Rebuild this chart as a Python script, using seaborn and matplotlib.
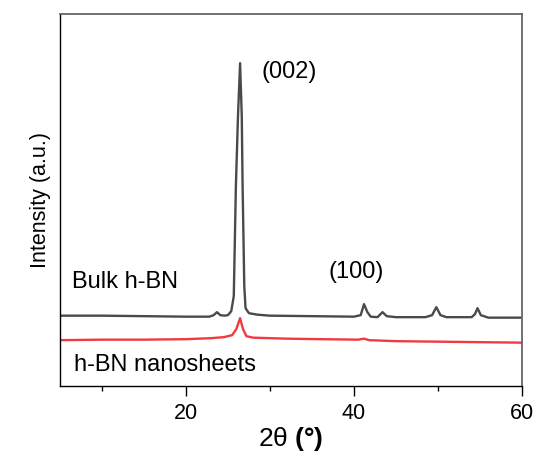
import matplotlib
matplotlib.use("Agg")
import matplotlib.pyplot as plt
import seaborn as sns
import pandas as pd
from matplotlib.ticker import MultipleLocator

# Bulk h-BN XRD pattern (2theta, intensity a.u.)
bulk_2theta = [5, 10, 15, 20, 22.8, 23.3, 23.7, 24.1, 24.6, 25.0, 25.4, 25.7, 25.95,
               26.2, 26.45, 26.65, 26.75, 26.95, 27.1, 27.5, 28.5, 30, 35, 40, 40.8,
               41.2, 41.6, 42.0, 42.8, 43.4, 43.9, 45, 48.5, 49.3, 49.8, 50.3, 51,
               54.0, 54.4, 54.7, 55.1, 56, 60]
bulk_int = [70.5, 70.5, 70, 69.5, 69.5, 71, 74, 71, 70.5, 71, 75, 90, 200,
            270, 323, 270, 200, 100, 78, 73, 71.5, 70.5, 70, 69.5, 71,
            82, 74, 69.5, 69, 74, 70, 69, 69, 71, 79, 71, 69,
            69, 72, 78, 71, 68.5, 68.5]

# h-BN nanosheets XRD pattern
nano_2theta = [5, 10, 15, 20, 23, 24.5, 25.5, 26.0, 26.45, 26.8, 27.2, 28, 32,
               36, 40.5, 41.2, 41.8, 45, 50, 55, 60]
nano_int = [46, 46.5, 46.5, 47, 48, 49, 51, 57, 68, 57, 50, 48.5, 47.5,
            47, 46.5, 47.5, 46, 45, 44.5, 44, 43.5]

labels = ["Bulk h-BN", "h-BN nanosheets"]
peak_labels = ["(002)", "(100)"]
x_ticks = [20, 40, 60]

sns.set_style("ticks")
plt.rcParams['font.family'] = ['Liberation Sans', 'DejaVu Sans']
plt.rcParams['text.color'] = 'black'
plt.rcParams['axes.labelcolor'] = 'black'
plt.rcParams['xtick.color'] = 'black'
plt.rcParams['mathtext.fontset'] = 'custom'
plt.rcParams['mathtext.rm'] = 'Liberation Sans'
plt.rcParams['mathtext.bf'] = 'Liberation Sans:bold'

df_bulk = pd.DataFrame({"x": bulk_2theta, "y": bulk_int})
df_nano = pd.DataFrame({"x": nano_2theta, "y": nano_int})

fig = plt.figure(figsize=(5.39, 4.57), dpi=100)
ax = fig.add_axes([0.111, 0.155, 0.8575, 0.814])

sns.lineplot(data=df_bulk, x="x", y="y", ax=ax, color="#4a4a4a", lw=1.7,
             estimator=None, sort=False)
sns.lineplot(data=df_nano, x="x", y="y", ax=ax, color="#ef3b3f", lw=1.7,
             estimator=None, sort=False)

ax.set_xlim(5, 60)
ax.set_ylim(0, 372)
ax.set_xticks(x_ticks)
ax.xaxis.set_minor_locator(MultipleLocator(10))
ax.tick_params(axis="x", which="major", direction="out", length=7, width=1,
               labelsize=15.5, pad=5, colors="black")
ax.tick_params(axis="x", which="minor", direction="out", length=3.5, width=1,
               colors="black")
ax.set_yticks([])

for side in ["left", "bottom"]:
    ax.spines[side].set_color("black")
    ax.spines[side].set_linewidth(1.0)
for side in ["top", "right"]:
    ax.spines[side].set_visible(True)
    ax.spines[side].set_color("#666666")
    ax.spines[side].set_linewidth(1.3)

ax.set_ylabel("Intensity (a.u.)", fontsize=15.5, labelpad=6)
ax.set_xlabel("2θ " + r"$\mathbf{(°)}$", fontsize=19, labelpad=1)

ax.text(6.4, 104, labels[0], fontsize=17, ha="left", va="center")
ax.text(6.7, 21, labels[1], fontsize=17, ha="left", va="center")
ax.text(32.3, 314, peak_labels[0], fontsize=17, ha="center", va="center")
ax.text(40.3, 114, peak_labels[1], fontsize=17, ha="center", va="center")

fig.savefig("out.png", dpi=100)
